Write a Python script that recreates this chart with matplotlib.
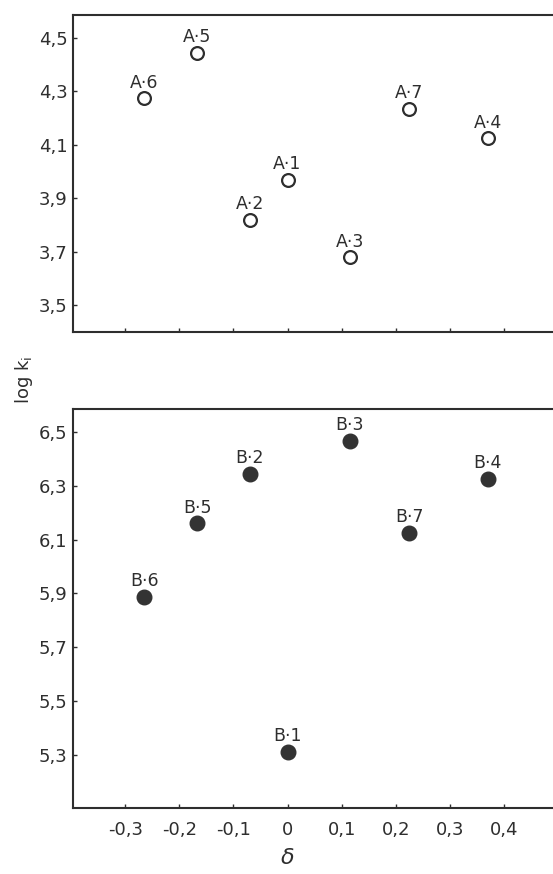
import matplotlib.pyplot as plt
import numpy as np

# substituent constants (delta) and log k_i for the two series
delta = [0.0, -0.07, 0.115, 0.37, -0.167, -0.265, 0.225]
numbers = [1, 2, 3, 4, 5, 6, 7]
logk_A = [3.97, 3.82, 3.68, 4.125, 4.445, 4.275, 4.235]
logk_B = [5.31, 6.345, 6.465, 6.325, 6.16, 5.885, 6.125]

yticks_A = [3.5, 3.7, 3.9, 4.1, 4.3, 4.5]
yticks_B = [5.3, 5.5, 5.7, 5.9, 6.1, 6.3, 6.5]
xticks = [-0.3, -0.2, -0.1, 0.0, 0.1, 0.2, 0.3, 0.4]

ink = '#2e2e2e'
plt.rcParams['font.family'] = 'DejaVu Sans'

fig = plt.figure(figsize=(5.53, 8.74), dpi=100)
ax1 = fig.add_axes([0.132, 0.620, 0.868, 0.363])
ax2 = fig.add_axes([0.132, 0.0755, 0.868, 0.4565])


def comma(v):
    if abs(v) < 1e-9:
        return '0'
    return f'{v:.1f}'.replace('.', ',')


def style(ax, yticks, ylim):
    ax.set_xlim(-0.3965, 0.4907)
    ax.set_ylim(*ylim)
    ax.set_xticks(xticks)
    ax.set_yticks(yticks)
    ax.set_yticklabels([comma(v) for v in yticks])
    ax.spines['right'].set_visible(False)
    for s in ['left', 'top', 'bottom']:
        ax.spines[s].set_linewidth(1.5)
        ax.spines[s].set_color(ink)
    ax.tick_params(direction='in', length=3, width=1, colors=ink,
                   labelsize=13, pad=4)


# series A: open circles
style(ax1, yticks_A, (3.399, 4.586))
ax1.set_xticklabels([])
ax1.scatter(delta, logk_A, s=85, facecolors='white', edgecolors=ink,
            linewidths=1.6, zorder=3)
for x, y, n in zip(delta, logk_A, numbers):
    ax1.annotate(f'A·{n}', (x, y), xytext=(0, 4.5), textcoords='offset points',
                 ha='center', va='bottom', fontsize=12.5, color=ink)

# series B: filled circles
style(ax2, yticks_B, (5.102, 6.5855))
ax2.set_xticklabels([comma(v) for v in xticks])
ax2.tick_params(axis='x', pad=9)
ax2.scatter(delta, logk_B, s=110, color='#333333', zorder=3)
for x, y, n in zip(delta, logk_B, numbers):
    ax2.annotate(f'B·{n}', (x, y), xytext=(0, 5), textcoords='offset points',
                 ha='center', va='bottom', fontsize=12.5, color=ink)

fig.text(24 / 553, 1 - 380 / 874, 'log k$_\\mathregular{i}$', rotation=90,
         ha='center', va='center', fontsize=13, color=ink)
fig.text(288 / 553, 1 - 858 / 874, 'δ', ha='center', va='center',
         fontsize=16, style='italic', color=ink)

fig.savefig('out.png', dpi=100, facecolor='white')
